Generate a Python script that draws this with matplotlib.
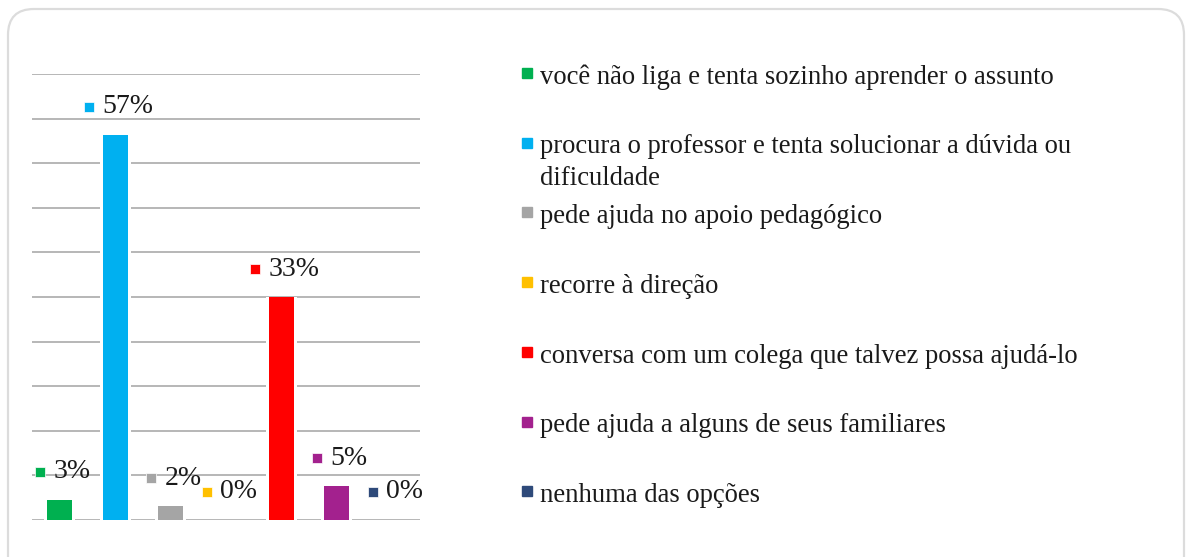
import matplotlib
matplotlib.use("Agg")
import matplotlib.pyplot as plt
import matplotlib.transforms as mtransforms
from matplotlib.patches import FancyBboxPatch

#%% dados
categorias = [
    "você não liga e tenta sozinho aprender o assunto",
    "procura o professor e tenta solucionar a dúvida ou\ndificuldade",
    "pede ajuda no apoio pedagógico",
    "recorre à direção",
    "conversa com um colega que talvez possa ajudá-lo",
    "pede ajuda a alguns de seus familiares",
    "nenhuma das opções",
]
valores = [3, 57, 2, 0, 33, 5, 0]
cores = ["#00B050", "#00B0F0", "#A5A5A5", "#FFC000", "#FF0000", "#A3218E", "#2E4A7A"]

#%% figura
W, H = 1188, 557
dpi = 100
fig = plt.figure(figsize=(W / dpi, H / dpi), dpi=dpi)
plt.rcParams['font.family'] = ['Liberation Serif', 'DejaVu Serif']

# moldura arredondada (passa da borda inferior)
borda = FancyBboxPatch((8, -30), 1176, H - 8 + 30 - 1,
                       boxstyle="round,pad=0,rounding_size=26",
                       transform=mtransforms.IdentityTransform(),
                       facecolor="none", edgecolor="#DCDCDC", linewidth=1.6, zorder=-1)
fig.patches.append(borda)

# area do grafico (pixels)
x0, x1 = 32, 420
y_top, y_base = 74, 520
ax = fig.add_axes([x0 / W, 1 - y_base / H, (x1 - x0) / W, (y_base - y_top) / H])
ax.set_facecolor("none")
ymax = 66
ax.set_ylim(0, ymax)
ax.set_xlim(-0.5, len(valores) - 0.5)
for s in ax.spines.values():
    s.set_visible(False)
ax.set_xticks([])
ax.set_yticks([])
for k in range(11):
    ax.axhline(ymax * k / 10, color="#A3A3A3", linewidth=1.1, zorder=1)

x = list(range(len(valores)))
largura = 0.45
# fundo branco (efeito de contorno) e barras
ax.bar(x, valores, width=largura + 6 / 55.4, color="white", zorder=2)
ax.bar(x, valores, width=largura, color=cores, zorder=3)

# rotulos de dados: quadrado colorido + percentual
fig.canvas.draw()
renderer = fig.canvas.get_renderer()
sq, gap = 10.5, 8
for i, v in enumerate(valores):
    t = ax.annotate(f"{v}%", xy=(i, v), xytext=(0, 28), textcoords="offset pixels",
                    ha="left", va="center", fontsize=20, color="#1A1A1A", zorder=5)
    w = t.get_window_extent(renderer).width
    esquerda = 3 - (sq + gap + w) / 2
    t.xyann = (esquerda + sq + gap, 28)
    tr = ax.transData + mtransforms.ScaledTranslation((esquerda + sq / 2) / dpi, 28 / dpi,
                                                     fig.dpi_scale_trans)
    ax.plot([i], [v], marker="s", markersize=sq * 72 / dpi, color=cores[i],
            markeredgecolor="white", markeredgewidth=0.5, transform=tr, zorder=5,
            clip_on=False)

# legenda manual
for k, (rot, c) in enumerate(zip(categorias, cores)):
    yc = 73 + 69.7 * k
    nlin = rot.count("\n")
    fig.add_artist(plt.Line2D([527 / W], [1 - yc / H], marker="s", markersize=6.8,
                              color=c, linestyle="none", transform=fig.transFigure))
    fig.text(540 / W, 1 - (yc + 11 + 31 * nlin) / H, rot, fontsize=19.2, color="#1A1A1A",
             ha="left", va="baseline", linespacing=1.35)

fig.savefig("out.png", dpi=dpi, facecolor="white")
